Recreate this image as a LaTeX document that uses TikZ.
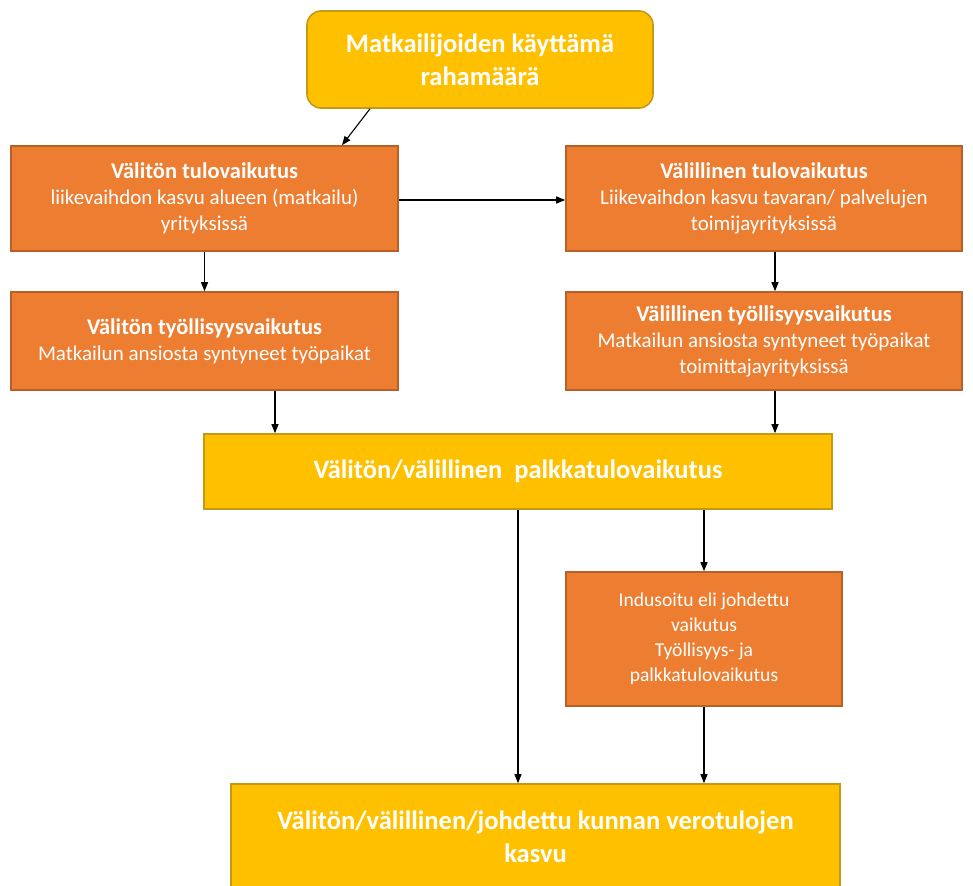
\documentclass[tikz,border=0pt]{standalone}
\usepackage{fontspec}
\setmainfont{Carlito}
\usepackage{tikz}
\usetikzlibrary{arrows.meta,positioning,calc}
\definecolor{keltainen}{HTML}{FFC000}
\definecolor{keltreuna}{HTML}{C49A14}
\definecolor{oranssi}{HTML}{ED7D31}
\definecolor{orareuna}{HTML}{B8602A}
\newcommand{\otsikko}[1]{{\fontsize{22.5}{26}\selectfont\bfseries #1}}

\begin{document}
\begin{tikzpicture}[x=1pt, y=-1pt,
  ylaatikko/.style={draw=keltreuna, line width=1.6pt, fill=keltainen, text=white, align=center,
    inner sep=0pt, font=\fontsize{26.5}{33}\selectfont\bfseries},
  olaatikko/.style={draw=orareuna, line width=1.6pt, fill=oranssi, text=white, align=center,
    inner sep=0pt, font=\fontsize{21}{26}\selectfont},
  nuoli/.style={-{Triangle[length=9pt,width=7pt]}, line width=1.1pt, black}]

\useasboundingbox (0,0) rectangle (973,885);

\node[ylaatikko, rounded corners=14pt, minimum width=346pt, minimum height=97pt] (raha) at (480,59.5)
  {Matkailijoiden käyttämä\\rahamäärä};

\node[olaatikko, minimum width=387pt, minimum height=105pt] (vtulo) at (204.5,198.5)
  {\otsikko{Välitön tulovaikutus}\\liikevaihdon kasvu alueen (matkailu)\\yrityksissä};
\node[olaatikko, minimum width=396pt, minimum height=105pt] (ltulo) at (764,198.5)
  {\otsikko{Välillinen tulovaikutus}\\Liikevaihdon kasvu tavaran/ palvelujen\\toimijayrityksissä};
\node[olaatikko, minimum width=387pt, minimum height=98pt] (vtyo) at (204.5,341)
  {\otsikko{Välitön työllisyysvaikutus}\\Matkailun ansiosta syntyneet työpaikat};
\node[olaatikko, minimum width=396pt, minimum height=98pt] (ltyo) at (764,341)
  {\otsikko{Välillinen työllisyysvaikutus}\\Matkailun ansiosta syntyneet työpaikat\\toimittajayrityksissä};

\node[ylaatikko, minimum width=628pt, minimum height=75pt] (palkka) at (518,471.5)
  {Välitön/välillinen\ \ palkkatulovaikutus};

\node[olaatikko, minimum width=276pt, minimum height=134pt, font=\fontsize{19.6}{25}\selectfont] (indu) at (704,639)
  {Indusoitu eli johdettu\\vaikutus\\Työllisyys- ja\\palkkatulovaikutus};

% alin laatikko jatkuu kuvan alareunan yli
\node[ylaatikko, minimum width=609pt, minimum height=106pt] (vero) at (535.5,837)
  {Välitön/välillinen/johdettu kunnan verotulojen\\kasvu};

\draw[nuoli] ([xshift=-110pt]raha.south) -- ([xshift=137.5pt]vtulo.north);
\draw[nuoli] (vtulo.east |- 0,200) -- (ltulo.west |- 0,200);
\draw[nuoli] (vtulo.south) -- (vtyo.north);
\draw[nuoli] ([xshift=11pt]ltulo.south) -- ([xshift=11pt]ltyo.north);
\draw[nuoli] ([xshift=70.5pt]vtyo.south) -- ([xshift=70.5pt]vtyo.south |- palkka.north);
\draw[nuoli] ([xshift=11pt]ltyo.south) -- ([xshift=11pt]ltyo.south |- palkka.north);
\draw[nuoli] (palkka.south) -- (palkka.south |- vero.north);
\draw[nuoli] (indu.north |- palkka.south) -- (indu.north);
\draw[nuoli] (indu.south) -- (indu.south |- vero.north);
\end{tikzpicture}
\end{document}
